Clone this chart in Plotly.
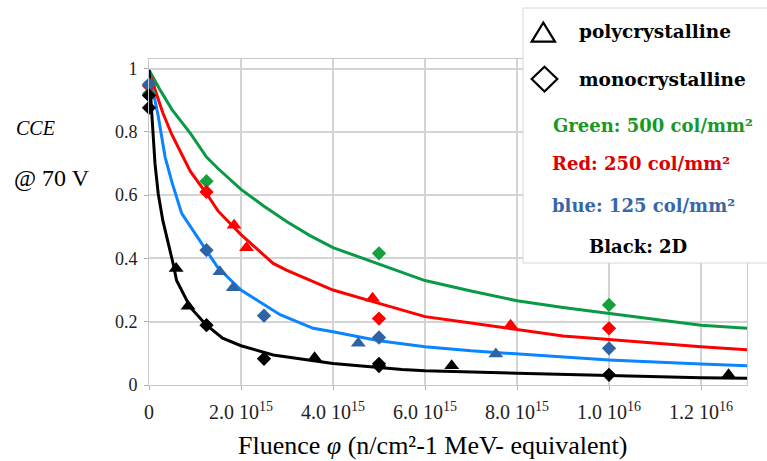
import plotly.graph_objects as go

# Fluence in units of 1e15 n/cm^2
green_fit_x = [0, 0.25, 0.5, 0.9, 1.25, 1.5, 2.0, 2.5, 3.0, 3.5, 4.0, 5.0, 6.0, 7.0, 8.0, 9.0, 10, 11, 12, 13]
green_fit_y = [0.995, 0.93, 0.87, 0.795, 0.72, 0.684, 0.618, 0.565, 0.516, 0.472, 0.434, 0.382, 0.330, 0.297, 0.266, 0.245, 0.226, 0.207, 0.189, 0.179]

red_fit_x = [0, 0.3, 0.5, 0.9, 1.25, 1.5, 2.0, 2.7, 3.0, 3.5, 4.0, 5.0, 6.0, 7.0, 8.0, 9.0, 10, 11, 12, 13]
red_fit_y = [0.99, 0.86, 0.79, 0.675, 0.605, 0.55, 0.475, 0.384, 0.362, 0.33, 0.30, 0.258, 0.216, 0.196, 0.176, 0.155, 0.144, 0.132, 0.121, 0.111]

blue_fit_x = [0, 0.2, 0.35, 0.5, 0.71, 1.0, 1.25, 1.5, 2.0, 2.85, 3.57, 4.0, 5.0, 6.0, 7.0, 8.0, 9.0, 10, 12, 13]
blue_fit_y = [0.99, 0.85, 0.72, 0.64, 0.542, 0.48, 0.426, 0.37, 0.30, 0.222, 0.179, 0.168, 0.14, 0.121, 0.108, 0.098, 0.088, 0.079, 0.066, 0.061]

black_fit_x = [0, 0.13, 0.2, 0.3, 0.53, 0.6, 0.9, 1.25, 1.6, 2.0, 2.7, 4.0, 5.5, 6.0, 8.0, 10, 12, 13]
black_fit_y = [0.995, 0.70, 0.605, 0.52, 0.38, 0.33, 0.245, 0.189, 0.148, 0.124, 0.095, 0.068, 0.049, 0.045, 0.037, 0.029, 0.023, 0.021]

green_mono_x = [0, 1.25, 5.0, 10]
green_mono_y = [0.92, 0.644, 0.416, 0.253]

red_mono_x = [0, 1.25, 5.0, 10]
red_mono_y = [0.945, 0.61, 0.21, 0.179]
red_poly_x = [1.85, 2.12, 4.86, 7.86]
red_poly_y = [0.505, 0.434, 0.274, 0.189]

blue_mono_x = [0, 1.25, 2.5, 5.0, 10]
blue_mono_y = [0.95, 0.426, 0.219, 0.15, 0.116]
blue_poly_x = [1.54, 1.83, 4.55, 7.54]
blue_poly_y = [0.358, 0.307, 0.132, 0.098]

black_mono_x = [0, 0, 1.25, 2.5, 5.0, 5.0, 10]
black_mono_y = [0.915, 0.876, 0.189, 0.083, 0.067, 0.060, 0.032]
black_poly_x = [0.59, 0.85, 3.6, 6.58, 12.6]
black_poly_y = [0.368, 0.249, 0.086, 0.061, 0.032]

x_tickvals = [0, 2, 4, 6, 8, 10, 12]
x_ticktext = ["0", "2.0 10<sup>15</sup>", "4.0 10<sup>15</sup>", "6.0 10<sup>15</sup>",
              "8.0 10<sup>15</sup>", "1.0 10<sup>16</sup>", "1.2 10<sup>16</sup>"]
y_tickvals = [0, 0.2, 0.4, 0.6, 0.8, 1.0]
y_ticktext = ["0", "0.2", "0.4", "0.6", "0.8", "1"]

GREEN_LINE = "#0a9a46"
GREEN_MK = "#14a03c"
RED = "#ff0000"
BLUE_LINE = "#0a84ff"
BLUE_MK = "#2e64a6"
BLACK = "#000000"

W, H = 767, 461
ML, MR, MT, MB = 149, 20, 59, 76
PW, PH = W - ML - MR, H - MT - MB


def px(x):
    return (x - ML) / PW


def py(y):
    return (H - MB - y) / PH


fig = go.Figure()

for fx, fy, col in [(green_fit_x, green_fit_y, GREEN_LINE), (red_fit_x, red_fit_y, RED),
                    (blue_fit_x, blue_fit_y, BLUE_LINE), (black_fit_x, black_fit_y, BLACK)]:
    fig.add_trace(go.Scatter(x=fx, y=fy, mode="lines", line=dict(color=col, width=3),
                             showlegend=False, cliponaxis=False, hoverinfo="skip"))

for mx, my, sym, col, sz in [
    (green_mono_x, green_mono_y, "diamond", GREEN_MK, 11),
    (red_mono_x, red_mono_y, "diamond", RED, 11),
    (red_poly_x, red_poly_y, "triangle-up", RED, 13),
    (blue_poly_x, blue_poly_y, "triangle-up", BLUE_MK, 13),
    (blue_mono_x, blue_mono_y, "diamond", BLUE_MK, 11),
    (black_mono_x, black_mono_y, "diamond", BLACK, 11),
    (black_poly_x, black_poly_y, "triangle-up", BLACK, 13),
]:
    fig.add_trace(go.Scatter(x=mx, y=my, mode="markers",
                             marker=dict(symbol=sym, color=col, size=sz, line=dict(width=0)),
                             showlegend=False, cliponaxis=False))

serif = "Liberation Serif"
bold = "DejaVu Serif"

shapes = [
    dict(type="rect", xref="paper", yref="paper", x0=px(523), x1=px(772), y0=py(263), y1=py(8),
         fillcolor="white", line=dict(color="#d8d8d8", width=1), layer="above"),
    dict(type="path", xref="paper", yref="paper",
         path=f"M {px(543.3)} {py(22.7)} L {px(555)} {py(41.7)} L {px(531.7)} {py(41.7)} Z",
         line=dict(color="black", width=2.2), fillcolor="rgba(0,0,0,0)", layer="above"),
    dict(type="path", xref="paper", yref="paper",
         path=f"M {px(544.5)} {py(66.7)} L {px(557.3)} {py(79)} L {px(544.5)} {py(91.5)} L {px(531.7)} {py(79)} Z",
         line=dict(color="black", width=2.2), fillcolor="rgba(0,0,0,0)", layer="above"),
]

ann = []


def add_text(text, x, y, size, color="black", family=serif, xanchor="center", bold_=False):
    t = f"<b>{text}</b>" if bold_ else text
    ann.append(dict(text=t, x=px(x), y=py(y), xref="paper", yref="paper", showarrow=False,
                    xanchor=xanchor, yanchor="middle", font=dict(size=size, color=color, family=family)))


add_text("polycrystalline", 577, 31.7, 18.5, family=bold, xanchor="left", bold_=True)
add_text("monocrystalline", 577, 79.3, 18.5, family=bold, xanchor="left", bold_=True)
add_text("Green: 500 col/mm²", 551, 125, 18, color="#17992a", family=bold, xanchor="left", bold_=True)
add_text("Red: 250 col/mm²", 550, 163.3, 18, color="#dd0000", family=bold, xanchor="left", bold_=True)
add_text("blue: 125 col/mm²", 550, 205, 18, color="#3767a8", family=bold, xanchor="left", bold_=True)
add_text("Black: 2D", 638, 246.7, 18, family=bold, bold_=True)
add_text("<i>CCE</i>", 36, 128, 20)
add_text("@ 70 V", 52, 178, 24)
add_text("Fluence <i>φ</i> (n/cm²-1 MeV- equivalent)", 432, 445, 26)

axis_common = dict(showgrid=True, gridcolor="#d4d4d4", gridwidth=1.5, zeroline=False,
                   showline=True, linecolor="#c8c8c8", linewidth=1, mirror=True,
                   ticks="outside", ticklen=4, tickcolor="#b0b0b0", automargin=False)

fig.update_layout(
    width=W, height=H,
    margin=dict(l=ML, r=MR, t=MT, b=MB, pad=0, autoexpand=False),
    paper_bgcolor="white", plot_bgcolor="white",
    shapes=shapes, annotations=ann,
    xaxis=dict(range=[0, 13], tickvals=x_tickvals, ticktext=x_ticktext,
               ticklabelstandoff=5, tickfont=dict(family=serif, size=20, color="#222"), **axis_common),
    yaxis=dict(range=[0, 1.03], tickvals=y_tickvals, ticktext=y_ticktext,
               ticklabelstandoff=3, tickfont=dict(family=serif, size=18, color="#222"), **axis_common),
    font=dict(family=serif),
)

fig.write_html("out.html", config={"displayModeBar": False},
               post_script="document.body.style.margin='0';document.body.style.overflow='hidden';")
